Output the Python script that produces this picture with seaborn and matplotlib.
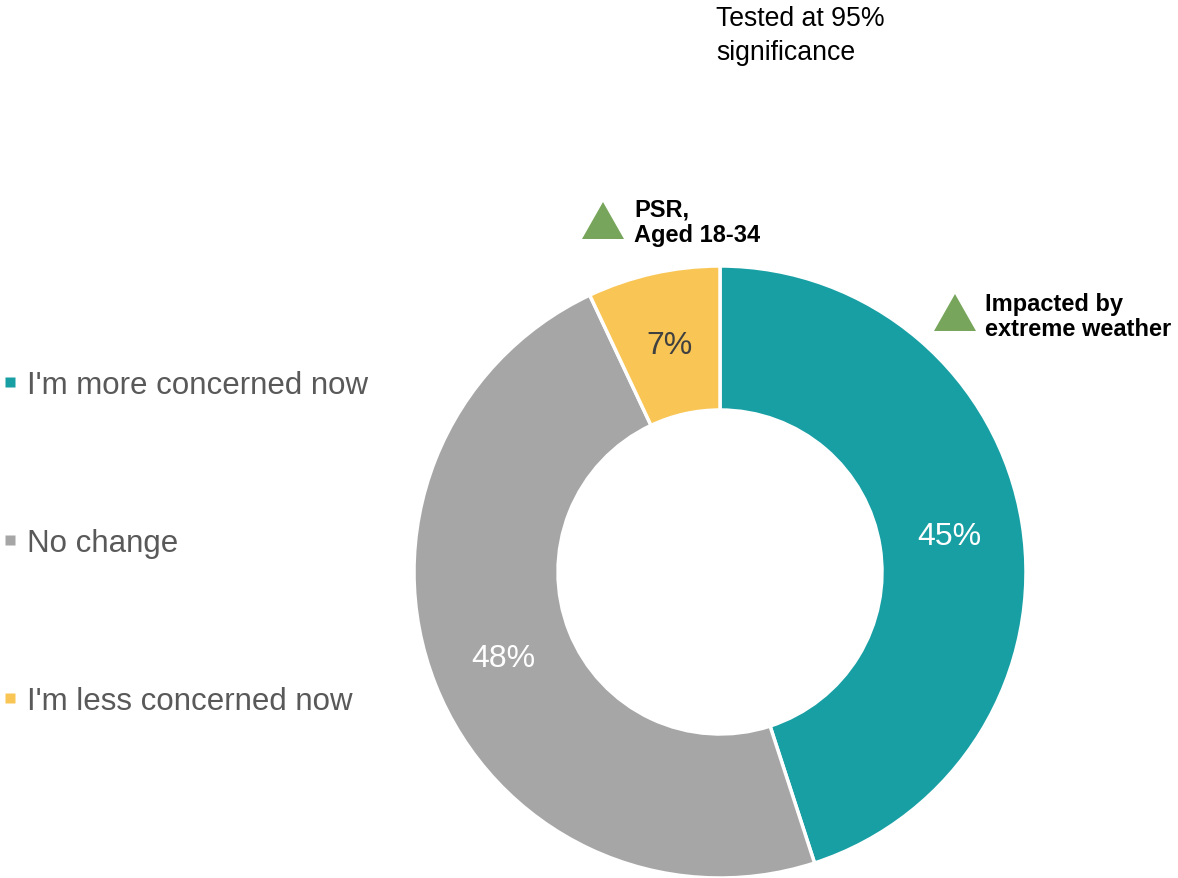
import matplotlib
matplotlib.use("Agg")
import matplotlib.pyplot as plt
from matplotlib.patches import Polygon
from matplotlib.lines import Line2D
import seaborn as sns

# Survey responses: change in concern
categories = ["I'm more concerned now", "No change", "I'm less concerned now"]
shares = [45, 48, 7]
colors = ["#179FA4", "#A6A6A6", "#F9C655"]
label_colors = ["white", "white", "#404040"]

sig_notes = ["PSR,\nAged 18-34", "Impacted by\nextreme weather"]

sns.set_theme(style="white")
plt.rcParams["font.family"] = ["Liberation Sans", "DejaVu Sans"]

W, H = 1178, 879
fig = plt.figure(figsize=(W / 100, H / 100), dpi=100)
ax = fig.add_axes([0, 0, 1, 1])
ax.set_xlim(0, W)
ax.set_ylim(0, H)
ax.set_aspect("equal")
ax.axis("off")

cx, cy, R = 720, H - 573, 306
wedges, texts, autotexts = ax.pie(
    shares,
    colors=colors,
    startangle=90,
    counterclock=False,
    center=(cx, cy),
    radius=R,
    autopct=lambda p: f"{p:.0f}%",
    pctdistance=0.76,
    wedgeprops=dict(width=R - 162, edgecolor="white", linewidth=2.5),
    textprops=dict(fontsize=23),
    frame=False,
)
for t, c in zip(autotexts, label_colors):
    t.set_color(c)
for w in wedges:
    w.set_clip_on(False)
ax.set_xlim(0, W)
ax.set_ylim(0, H)

# Legend on the left with small square keys
handles = [Line2D([], [], linestyle="none", marker="s", markersize=7.8,
                  markerfacecolor=c, markeredgecolor="none") for c in colors]
leg = ax.legend(
    handles, categories,
    loc="center left",
    bbox_to_anchor=(4 / W, 1 - 544 / H),
    bbox_transform=fig.transFigure,
    frameon=False,
    fontsize=22.5,
    labelspacing=4.1,
    handlelength=0.4,
    handletextpad=0.34,
    borderpad=0,
    borderaxespad=0,
)
for txt in leg.get_texts():
    txt.set_color("#595959")

# Significance note
ax.text(716, H - 6, "Tested at 95%\nsignificance", fontsize=19.2, color="black",
        ha="left", va="top", linespacing=1.38)

# Significance markers
green = "#77A55B"
tri_centers = [(603, 222), (955, 314)]
text_pos = [(634, 223), (985, 317)]
for (tx, ty), (lx, ly), note in zip(tri_centers, text_pos, sig_notes):
    ty = H - ty
    ax.add_patch(Polygon([(tx - 21, ty - 18), (tx + 21, ty - 18), (tx, ty + 19)],
                         closed=True, facecolor=green, edgecolor="none"))
    ax.text(lx, H - ly, note, fontsize=17, fontweight="bold", color="black",
            ha="left", va="center", linespacing=1.12)

fig.savefig("out.png", dpi=100, facecolor="white")
